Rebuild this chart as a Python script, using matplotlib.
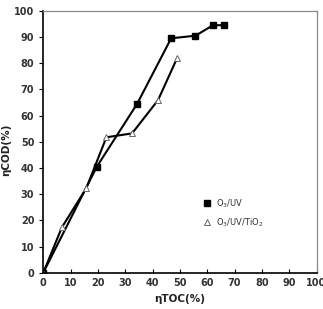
import matplotlib
matplotlib.use("Agg")
import matplotlib.pyplot as plt

# O3/UV
toc_uv = [0, 19.6, 34.3, 46.8, 55.7, 62.1, 66.0]
cod_uv = [0, 40.5, 64.4, 89.5, 90.5, 94.5, 94.5]
# O3/UV/TiO2
toc_tio2 = [0, 6.8, 15.7, 23.1, 32.5, 42.0, 49.0]
cod_tio2 = [0, 17.3, 32.2, 51.7, 53.2, 65.9, 82.0]

ticks = list(range(0, 101, 10))

fig = plt.figure(figsize=(3.23, 3.09), dpi=100)
ax = fig.add_axes([0.134, 0.1175, 0.846, 0.8475])

ax.plot(toc_uv, cod_uv, color="black", lw=1.5, marker="s", ms=4.5,
        mfc="black", mec="black", label="O$_3$/UV")
ax.plot(toc_tio2, cod_tio2, color="black", lw=1.5, marker="^", ms=5,
        mfc="white", mec="#666666", mew=0.7, label="O$_3$/UV/TiO$_2$")

ax.set_xlim(0, 100)
ax.set_ylim(0, 100)
ax.set_xticks(ticks)
ax.set_yticks(ticks)
ax.tick_params(axis="x", direction="in", length=3, labelsize=7, colors="#333333")
ax.tick_params(axis="y", direction="out", length=3, labelsize=7, colors="#333333")
for lab in ax.get_xticklabels() + ax.get_yticklabels():
    lab.set_fontweight("bold")
ax.tick_params(axis="both", color="black")

for s in ["left", "bottom"]:
    ax.spines[s].set_color("black")
    ax.spines[s].set_linewidth(1.2)
for s in ["top", "right"]:
    ax.spines[s].set_color("#888888")
    ax.spines[s].set_linewidth(0.9)

ax.set_xlabel("ηTOC(%)", fontsize=7.5, fontweight="bold", color="#222222", labelpad=5)
ax.set_ylabel("ηCOD(%)", fontsize=7.5, fontweight="bold", color="#222222")
ax.yaxis.set_label_coords(-0.118, 0.47)

ax.legend(loc="center left", bbox_to_anchor=(0.555, 0.228), frameon=False,
          fontsize=6, handlelength=1.0, handletextpad=0.6, labelspacing=0.8,
          labelcolor="#333333")
for h in ax.get_legend().legend_handles:
    h.set_linestyle("none")

fig.savefig("out.png", dpi=100)
